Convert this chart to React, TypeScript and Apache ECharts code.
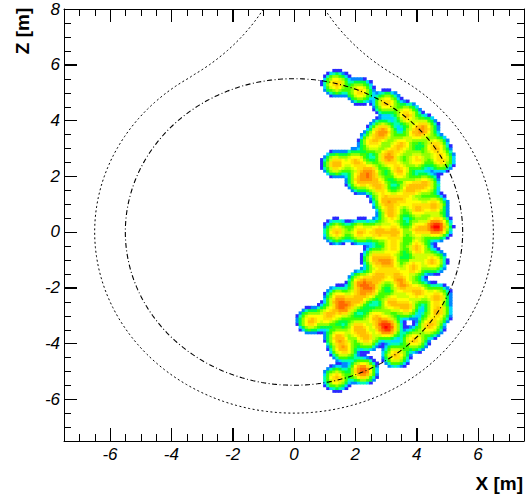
import React, { useEffect, useRef } from "react";
import * as echarts from "echarts";

// axis ranges and tick labels
const xRange = [-7.5, 7.5];
const zRange = [-7.5, 8];
const xMajorTicks = [-6, -4, -2, 0, 2, 4, 6];
const zMajorTicks = [-6, -4, -2, 0, 2, 4, 6, 8];
const MINOR_STEP = 0.5;

// hit clusters: position (m) and relative intensity
const hitX = [1.38, 2.15, 3.02, 3.68, 4.24, 4.6, 4.8, 2.9, 2.55, 3.48, 3.08, 4.02, 1.37, 2.02, 2.47, 2.15, 2.75, 3.44, 3.82, 4.3, 3.0, 3.18, 4.02, 4.57, 3.5, 3.95,
  1.39, 2.15, 2.75, 3.3, 4.05, 4.65,
  4.03, 2.66, 3.1, 4.53, 3.9, 2.76, 2.2, 2.5, 3.54, 4.05, 4.66, 1.45, 2.07, 1.62, 3.18, 3.67, 4.69, 0.54, 1.12, 2.08, 2.37, 3.03, 2.65, 1.45, 1.63, 4.43, 3.93, 3.32, 2.24, 1.39, 3.25, 3.35];
const hitZ = [5.33, 5.06, 4.64, 4.22, 3.76, 3.1, 2.6, 3.62, 3.22, 3.12, 2.7, 2.62, 2.45, 2.55, 2.15, 1.86, 1.68, 2.2, 1.6, 1.72, 1.15, 0.66, 0.87, 0.96, 1.2, 3.55,
  0.02, 0.02, 0.02, 0.02, 0.12, 0.2,
  -0.55, -0.92, -1.07, -1.04, -1.25, -1.57, -1.82, -2.05, -1.9, -2.13, -2.3, -2.38, -2.39, -2.72, -2.51, -2.68, -2.85, -3.17, -3.0, -3.42, -3.8, -3.4, -3.05, -3.77, -4.2, -3.35, -3.86, -4.4, -4.96, -5.23, -0.5, -1.55];
const hitAmp = [1.0, 1.0, 1.0, 1.0, 1.0, 1.0, 0.9, 1.3, 0.9, 1.0, 1.25, 0.9, 1.15, 1.0, 1.15, 1.0, 1.0, 1.0, 1.0, 1.0, 1.0, 1.0, 1.0, 1.0, 0.8, 0.75,
  1.0, 1.0, 1.05, 1.0, 1.0, 2.0,
  1.0, 1.0, 1.0, 1.0, 1.0, 1.0, 1.15, 1.0, 1.0, 1.0, 1.0, 1.0, 1.0, 1.15, 1.0, 1.0, 1.0, 1.0, 1.0, 1.0, 1.0, 2.0, 0.9, 1.0, 1.0, 1.0, 1.0, 1.0, 1.6, 1.0, 0.85, 0.75];

// colour levels (ROOT-like palette)
const levels = [0.085, 0.115, 0.15, 0.19, 0.24, 0.32, 0.44, 0.56, 0.68, 0.82, 0.97, 1.15, 1.4, 1.65, 1.95];
const levelColors = ["#2a2aff", "#0088ff", "#00d8ff", "#00ffb0", "#00ff40", "#40ff00", "#90ff00", "#d0ff00", "#ffff00", "#ffe000", "#ffc000", "#ff9800", "#ff6800", "#ff3800", "#ff0000"];

// detector geometry
const innerRadius = 5.5;
const outerRadius = 6.5;
const neckFillet = { cx: 7.11, cz: 11.61, r: 7.1 };

const CELL = 0.1;
const SIGMA = 0.22;
const MAJOR_LEN = 13;
const MINOR_LEN = 7;

function buildCells() {
  const cells: number[][] = [];
  const nx = Math.round(6.6 / CELL);
  const nz = Math.round(12.8 / CELL);
  for (let i = 0; i <= nx; i++) {
    const x = -0.5 + i * CELL;
    for (let j = 0; j <= nz; j++) {
      const z = -6.4 + j * CELL;
      let v = 0;
      for (let k = 0; k < hitX.length; k++) {
        const dx = x - hitX[k];
        const dz = z - hitZ[k];
        const r2 = dx * dx + dz * dz;
        if (r2 < 1) v += hitAmp[k] * Math.exp(-r2 / (2 * SIGMA * SIGMA));
      }
      if (v >= levels[0]) cells.push([x, z, v]);
    }
  }
  return cells;
}

function circlePoints(r: number) {
  const pts: number[][] = [];
  for (let a = 0; a <= 360; a += 1) {
    const t = (a * Math.PI) / 180;
    pts.push([r * Math.cos(t), r * Math.sin(t)]);
  }
  return pts;
}

function outerPoints() {
  const pts: number[][] = [];
  const { cx, cz, r } = neckFillet;
  const phiT = Math.atan2(cz, cx);
  const thTop = Math.PI + Math.asin((cz - 8.4) / r);
  const thT = Math.PI + phiT;
  for (let i = 0; i <= 40; i++) {
    const th = thTop + ((thT - thTop) * i) / 40;
    pts.push([cx + r * Math.cos(th), cz + r * Math.sin(th)]);
  }
  const a0 = phiT;
  const a1 = Math.PI - phiT - 2 * Math.PI;
  for (let i = 0; i <= 300; i++) {
    const a = a0 + ((a1 - a0) * i) / 300;
    pts.push([outerRadius * Math.cos(a), outerRadius * Math.sin(a)]);
  }
  for (let i = 0; i <= 40; i++) {
    const th = thT + ((thTop - thT) * i) / 40;
    pts.push([-(cx + r * Math.cos(th)), cz + r * Math.sin(th)]);
  }
  return pts;
}

function tickValues(range: number[]) {
  const out: number[] = [];
  const n = Math.round((range[1] - range[0]) / MINOR_STEP);
  for (let k = 1; k < n; k++) out.push(range[0] + k * MINOR_STEP);
  return out;
}

const FONT = '"Liberation Sans", Arial, Helvetica, sans-serif';
const GRID = { left: 64, right: 5, top: 9, bottom: 54 };

function makeXAxis(withLabels: boolean) {
  return {
    type: "value",
    min: xRange[0],
    max: xRange[1],
    axisLine: { show: true, onZero: false, lineStyle: { color: "#000" } },
    axisTick: { show: true, inside: true, length: MAJOR_LEN, customValues: xMajorTicks },
    axisLabel: withLabels
      ? { show: true, customValues: xMajorTicks, margin: 5, color: "#000", fontSize: 17, fontStyle: "italic", fontFamily: FONT }
      : { show: false },
    splitLine: { show: false },
  };
}

function makeYAxis(withLabels: boolean) {
  return {
    type: "value",
    min: zRange[0],
    max: zRange[1],
    axisLine: { show: true, onZero: false, lineStyle: { color: "#000" } },
    axisTick: { show: true, inside: true, length: MAJOR_LEN, customValues: zMajorTicks },
    axisLabel: withLabels
      ? { show: true, customValues: zMajorTicks, margin: 4, color: "#000", fontSize: 17, fontStyle: "italic", fontFamily: FONT }
      : { show: false },
    splitLine: { show: false },
  };
}

const tickStyle = { stroke: "#000", lineWidth: 1 };

export default function App() {
  const ref = useRef<HTMLDivElement>(null);
  useEffect(() => {
    if (!ref.current) return;
    const chart = echarts.init(ref.current, null, { renderer: "svg" });
    const cells = buildCells();
    const pieces = levels.map((lv, i) => ({
      gte: lv,
      ...(i < levels.length - 1 ? { lt: levels[i + 1] } : {}),
      color: levelColors[i],
    }));
    chart.setOption({
      animation: false,
      backgroundColor: "#fff",
      grid: GRID,
      xAxis: [makeXAxis(true), makeXAxis(false)],
      yAxis: [makeYAxis(true), makeYAxis(false)],
      visualMap: {
        type: "piecewise",
        show: false,
        seriesIndex: 2,
        dimension: 2,
        pieces,
        outOfRange: { color: "rgba(0,0,0,0)" },
      },
      graphic: [
        {
          type: "text",
          x: 523,
          y: 474,
          style: { text: "X [m]", font: `bold 19px ${FONT}`, fill: "#000", align: "right", verticalAlign: "top" },
        },
        {
          type: "text",
          x: 13,
          y: 31,
          rotation: Math.PI / 2,
          style: { text: "Z [m]", font: `bold 19px ${FONT}`, fill: "#000", align: "center", verticalAlign: "top" },
        },
      ],
      series: [
        {
          // tick marks along bottom and top frame, placed by the x axis scale
          type: "custom",
          name: "x ticks",
          xAxisIndex: 0,
          yAxisIndex: 0,
          clip: false,
          silent: true,
          z: 10,
          progressive: 0,
          data: tickValues(xRange).map((v) => [v, zRange[0]]),
          encode: { x: 0, y: 1 },
          renderItem: (params: any, api: any) => {
            const v = api.value(0);
            const len = xMajorTicks.indexOf(v) >= 0 ? MAJOR_LEN : MINOR_LEN;
            const b = api.coord([v, zRange[0]]);
            const t = api.coord([v, zRange[1]]);
            const X = Math.round(b[0]) + 0.5;
            return {
              type: "group",
              children: [
                { type: "line", shape: { x1: X, y1: b[1], x2: X, y2: b[1] - len }, style: tickStyle },
                { type: "line", shape: { x1: X, y1: t[1], x2: X, y2: t[1] + len }, style: tickStyle },
              ],
            };
          },
        },
        {
          // tick marks along left and right frame, placed by the z axis scale
          type: "custom",
          name: "z ticks",
          xAxisIndex: 0,
          yAxisIndex: 0,
          clip: false,
          silent: true,
          z: 10,
          progressive: 0,
          data: tickValues(zRange).map((v) => [xRange[0], v]),
          encode: { x: 0, y: 1 },
          renderItem: (params: any, api: any) => {
            const v = api.value(1);
            const len = zMajorTicks.indexOf(v) >= 0 ? MAJOR_LEN : MINOR_LEN;
            const l = api.coord([xRange[0], v]);
            const r = api.coord([xRange[1], v]);
            const Y = Math.round(l[1]) + 0.5;
            return {
              type: "group",
              children: [
                { type: "line", shape: { x1: l[0], y1: Y, x2: l[0] + len, y2: Y }, style: tickStyle },
                { type: "line", shape: { x1: r[0], y1: Y, x2: r[0] - len, y2: Y }, style: tickStyle },
              ],
            };
          },
        },
        {
          type: "custom",
          name: "hits",
          xAxisIndex: 0,
          yAxisIndex: 0,
          dimensions: ["x", "z", "v"],
          encode: { x: 0, y: 1 },
          data: cells,
          clip: true,
          silent: true,
          progressive: 0,
          progressiveThreshold: 100000,
          renderItem: (params: any, api: any) => {
            const x = api.value(0);
            const z = api.value(1);
            const p = api.coord([x - CELL / 2, z + CELL / 2]);
            const s = api.size([CELL, CELL]);
            return {
              type: "rect",
              shape: { x: p[0], y: p[1], width: s[0] + 0.6, height: s[1] + 0.6 },
              style: { fill: api.visual("color") },
            };
          },
        },
        {
          type: "line",
          name: "r = 5.5 m",
          xAxisIndex: 0,
          yAxisIndex: 0,
          data: circlePoints(innerRadius),
          showSymbol: false,
          silent: true,
          clip: true,
          z: 5,
          lineStyle: { color: "#000", width: 1.1, type: [5, 2.5, 1, 2.5] },
        },
        {
          type: "line",
          name: "outer",
          xAxisIndex: 0,
          yAxisIndex: 0,
          data: outerPoints(),
          showSymbol: false,
          silent: true,
          clip: true,
          z: 5,
          lineStyle: { color: "#000", width: 1, type: [2, 2.5] },
        },
      ],
    });
    return () => chart.dispose();
  }, []);
  return <div ref={ref} style={{ position: "fixed", left: 0, top: 0, width: 529, height: 495 }} />;
}
